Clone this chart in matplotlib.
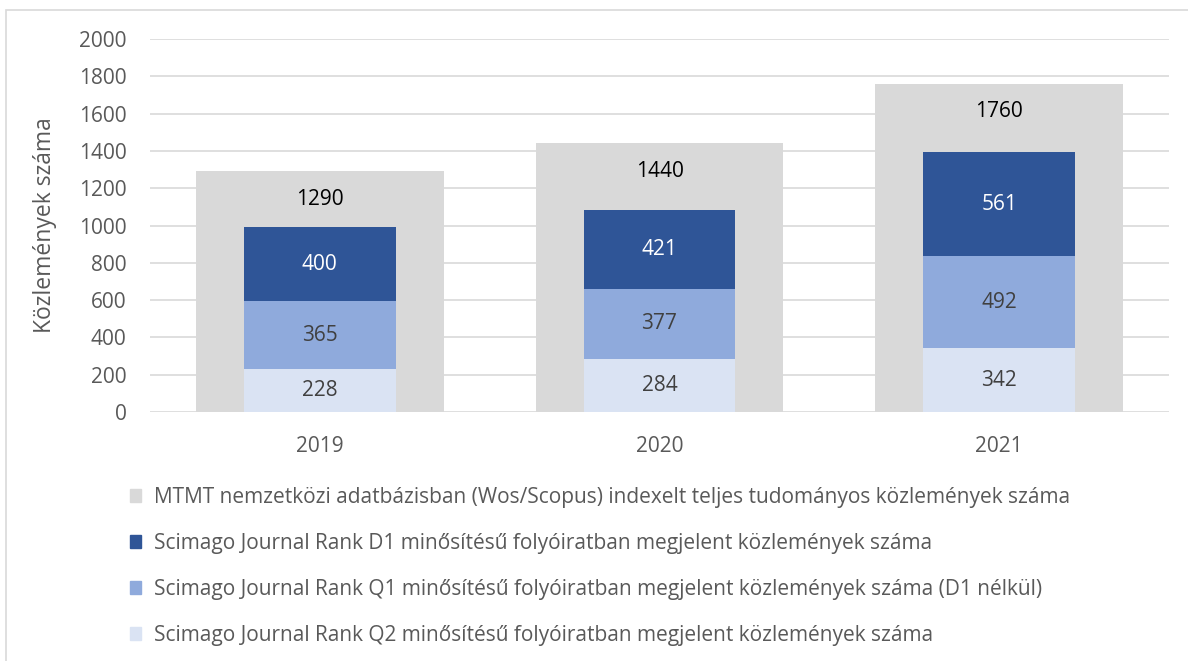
import matplotlib.pyplot as plt
from matplotlib.patches import Patch, Rectangle

plt.rcParams["font.family"] = ["Open Sans", "DejaVu Sans"]

years = ["2019", "2020", "2021"]
total = [1290, 1440, 1760]
q2 = [228, 284, 342]
q1 = [365, 377, 492]
d1 = [400, 421, 561]

labels = [
    "MTMT nemzetközi adatbázisban (Wos/Scopus) indexelt teljes tudományos közlemények száma",
    "Scimago Journal Rank D1 minősítésű folyóiratban megjelent közlemények száma",
    "Scimago Journal Rank Q1 minősítésű folyóiratban megjelent közlemények száma (D1 nélkül)",
    "Scimago Journal Rank Q2 minősítésű folyóiratban megjelent közlemények száma",
]

c_total = "#D9D9D9"
c_d1 = "#2F5597"
c_q1 = "#8FAADC"
c_q2 = "#DAE3F3"
txt = "#595959"

W, H = 1188, 661
fig = plt.figure(figsize=(W / 100, H / 100), dpi=100)
fig.patches.append(Rectangle((6 / W, -0.1), 1.2, 1 - 10 / H + 0.1, transform=fig.transFigure,
                             fill=False, edgecolor="#D9D9D9", linewidth=1.2))

ax = fig.add_axes([150 / W, 1 - 412 / H, (1169 - 150) / W, (412 - 39) / H])
x = range(len(years))

ax.bar(x, total, width=0.73, color=c_total, zorder=2)
ax.bar(x, q2, width=0.447, color=c_q2, zorder=3)
ax.bar(x, q1, width=0.447, bottom=q2, color=c_q1, zorder=3)
bot = [a + b for a, b in zip(q2, q1)]
ax.bar(x, d1, width=0.447, bottom=bot, color=c_d1, zorder=3)

fs = 15
for i in x:
    ax.annotate(str(total[i]), (i, total[i]), xytext=(0, -28 * 0.72), textcoords="offset points",
                ha="center", va="center", fontsize=fs, color="black", zorder=4)
    ax.text(i, q2[i] / 2, str(q2[i]), ha="center", va="center", fontsize=fs, color="#404040", zorder=4)
    ax.text(i, q2[i] + q1[i] / 2, str(q1[i]), ha="center", va="center", fontsize=fs,
            color="#404040", zorder=4)
    ax.text(i, bot[i] + d1[i] / 2, str(d1[i]), ha="center", va="center", fontsize=fs,
            color="white", zorder=4)

ax.set_xlim(-0.5, 2.5)
ax.set_ylim(0, 2000)
ax.set_yticks(range(0, 2001, 200))
ax.set_xticks(list(x))
ax.set_xticklabels(years)
ax.yaxis.grid(True, color="#D9D9D9", linewidth=1.2, zorder=0)
ax.set_axisbelow(True)
for s in ax.spines.values():
    s.set_visible(False)
ax.tick_params(axis="both", length=0, labelsize=fs, colors=txt)
ax.tick_params(axis="y", pad=17)
ax.tick_params(axis="x", pad=17)
ax.set_ylabel("Közlemények száma", fontsize=16.5, color=txt)
ax.yaxis.set_label_coords((57 - 150) / (1169 - 150), 0.5)

handles = [Patch(color=c) for c in (c_total, c_d1, c_q1, c_q2)]
fig.legend(handles, labels, loc="upper left", bbox_to_anchor=(130 / W, 1 - 487 / H),
           frameon=False, fontsize=fs, labelcolor=txt, handlelength=0.55, handleheight=0.55,
           handletextpad=0.6, labelspacing=1.2, borderpad=0, borderaxespad=0)

fig.savefig("out.png", dpi=100)
